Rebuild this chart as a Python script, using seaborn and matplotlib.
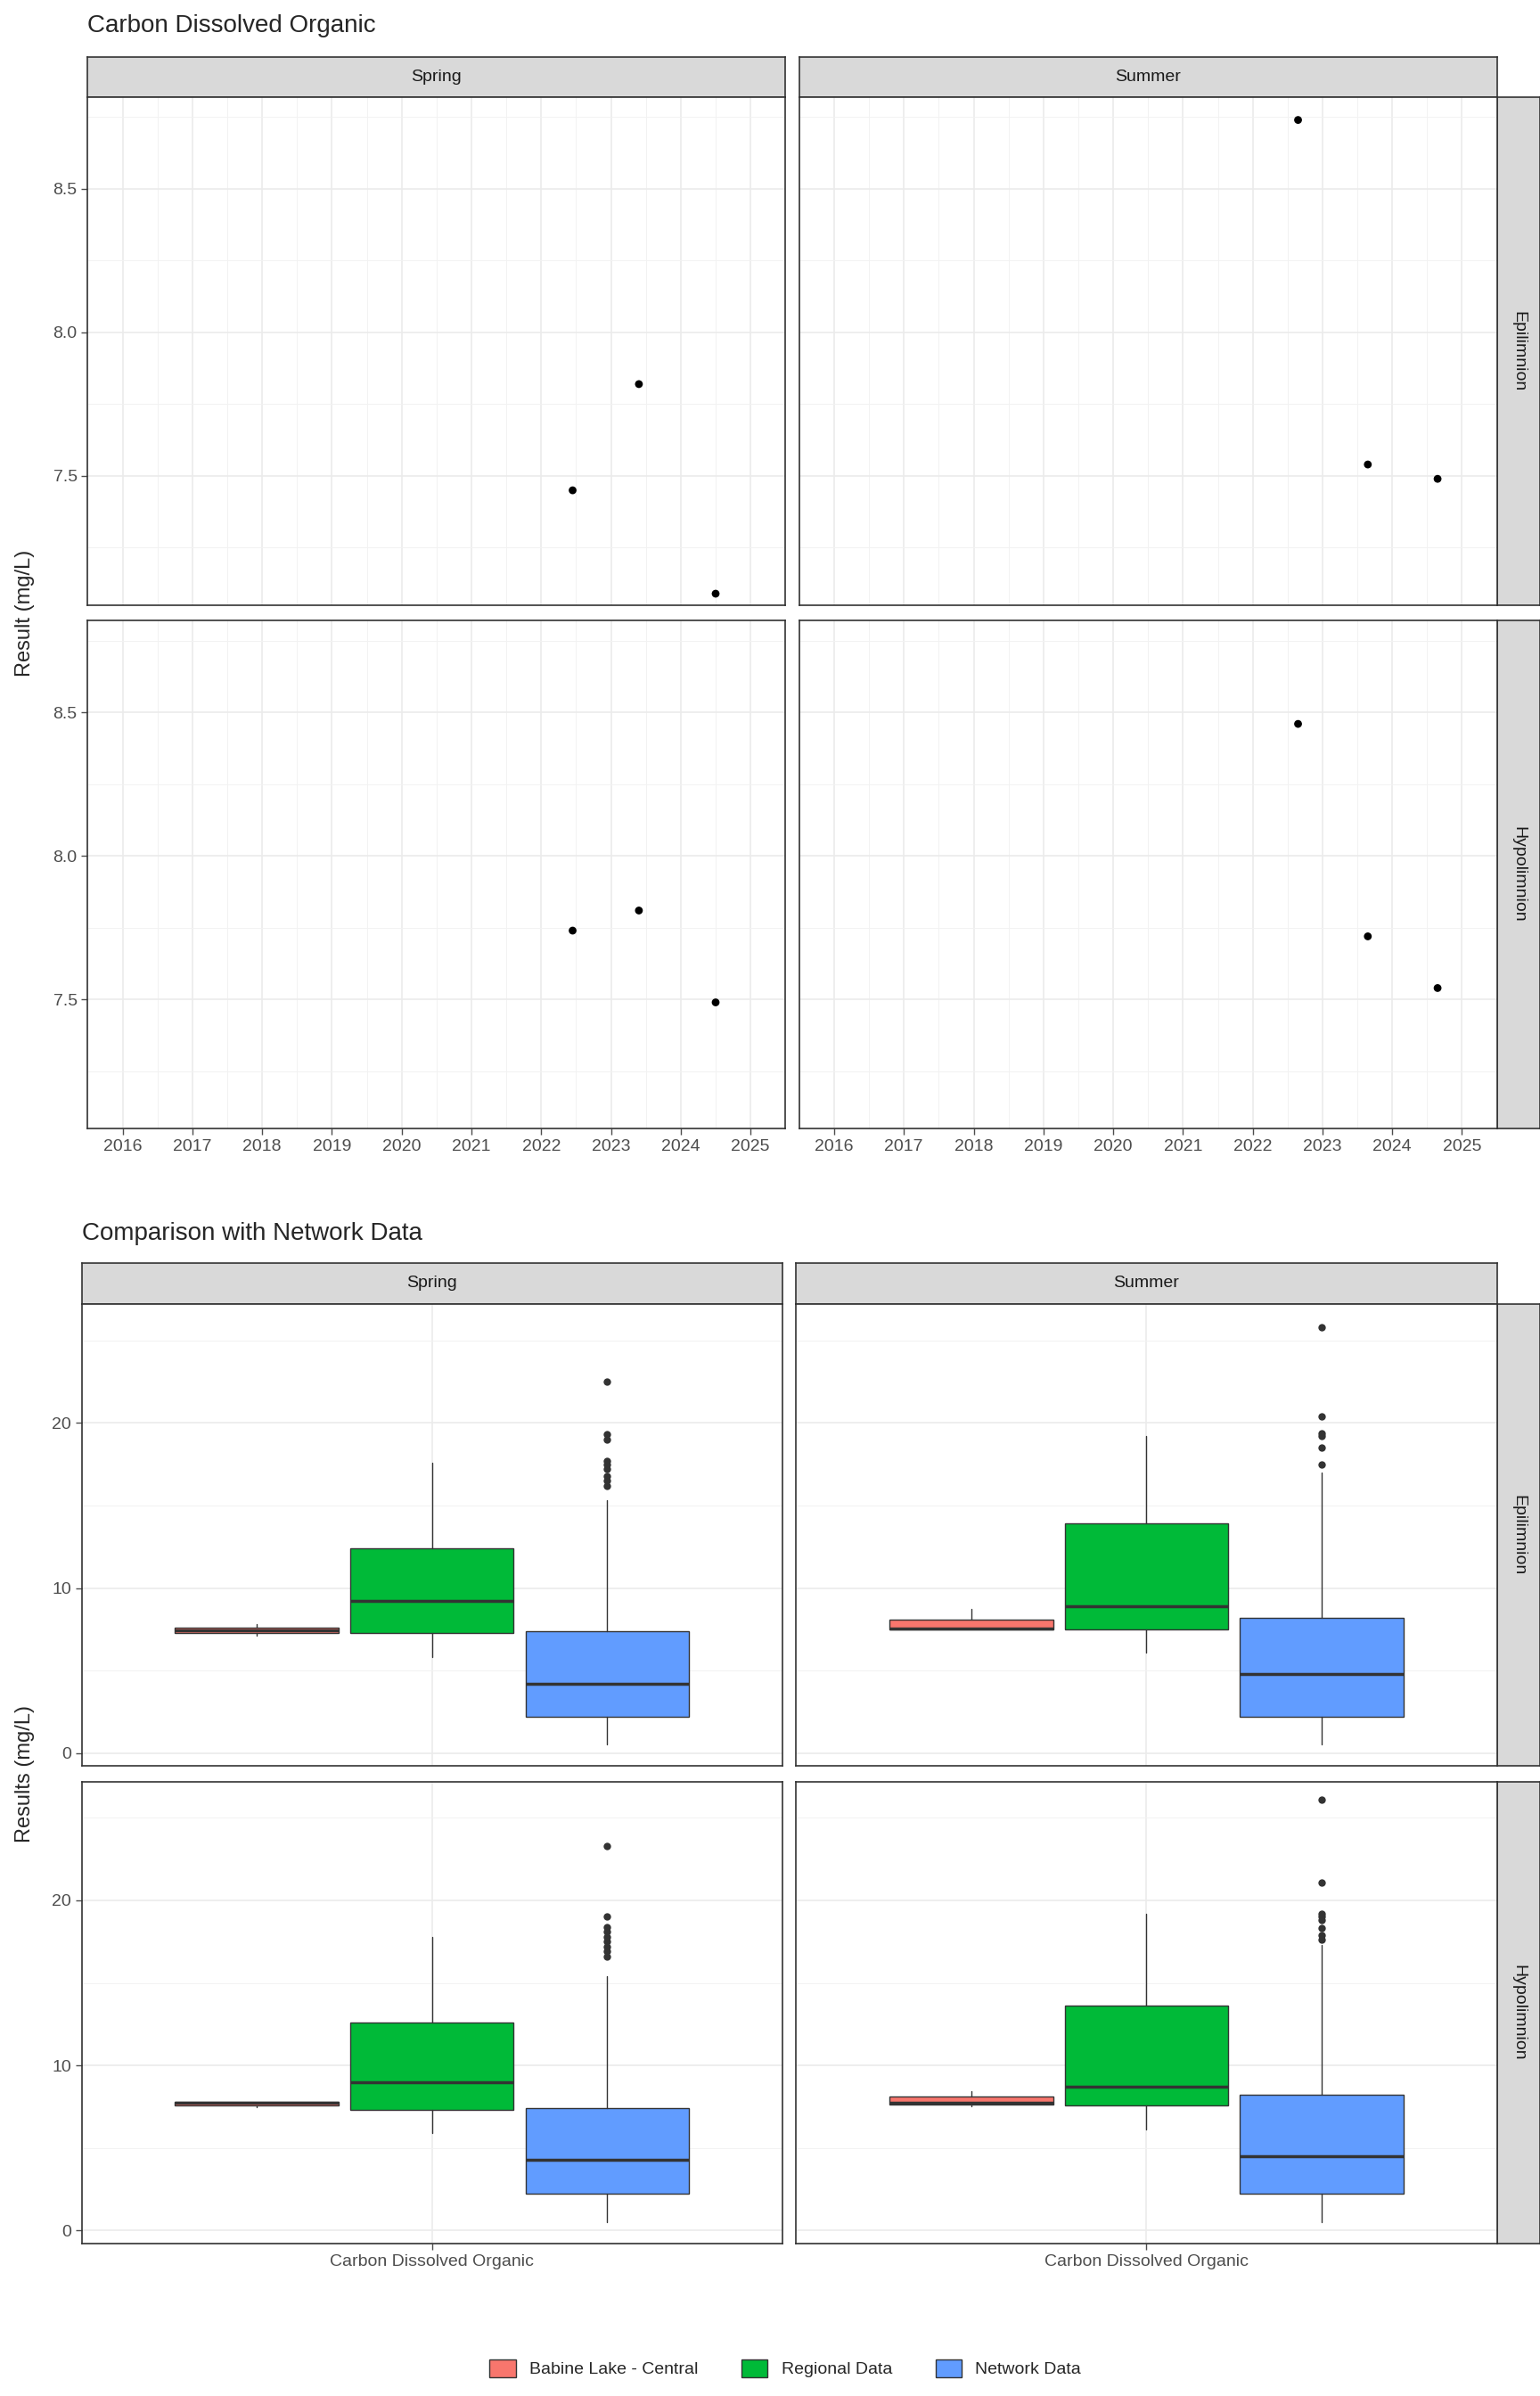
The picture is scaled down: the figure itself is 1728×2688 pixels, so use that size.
import matplotlib
matplotlib.use("Agg")
import matplotlib.pyplot as plt
import seaborn as sns
import pandas as pd
import numpy as np
from matplotlib.patches import Patch

sns.set_theme(style="white")
plt.rcParams["font.family"] = "Liberation Sans"

seasons = ["Spring", "Summer"]
layers = ["Epilimnion", "Hypolimnion"]

# Top chart data (fractional year, mg/L)
pt_season = ["Spring"]*3 + ["Summer"]*3 + ["Spring"]*3 + ["Summer"]*3
pt_layer = ["Epilimnion"]*6 + ["Hypolimnion"]*6
pt_year = [2022.45, 2023.4, 2024.5, 2022.65, 2023.65, 2024.65,
           2022.45, 2023.4, 2024.5, 2022.65, 2023.65, 2024.65]
pt_value = [7.45, 7.82, 7.09, 8.74, 7.54, 7.49,
            7.74, 7.81, 7.49, 8.46, 7.72, 7.54]
year_ticks = list(range(2016, 2026))

# Bottom chart box stats: (whislo, q1, med, q3, whishi)
groups = ["Babine Lake - Central", "Regional Data", "Network Data"]
colors = ["#F8766D", "#00BA38", "#619CFF"]
box_stats = {
    ("Spring", "Epilimnion"): [(7.1, 7.3, 7.45, 7.6, 7.8), (5.8, 7.3, 9.2, 12.4, 17.6), (0.5, 2.2, 4.2, 7.4, 15.3)],
    ("Summer", "Epilimnion"): [(7.49, 7.5, 7.54, 8.1, 8.74), (6.1, 7.5, 8.9, 13.9, 19.2), (0.5, 2.2, 4.8, 8.2, 17.0)],
    ("Spring", "Hypolimnion"): [(7.49, 7.6, 7.74, 7.78, 7.81), (5.9, 7.3, 9.0, 12.6, 17.8), (0.5, 2.2, 4.3, 7.4, 15.4)],
    ("Summer", "Hypolimnion"): [(7.54, 7.63, 7.72, 8.09, 8.46), (6.1, 7.6, 8.7, 13.6, 19.2), (0.5, 2.2, 4.5, 8.2, 17.3)],
}
net_fliers = {
    ("Spring", "Epilimnion"): [16.2, 16.5, 16.8, 17.2, 17.5, 17.7, 19.0, 19.3, 22.5],
    ("Summer", "Epilimnion"): [17.5, 18.5, 19.2, 19.4, 20.4, 25.8],
    ("Spring", "Hypolimnion"): [16.6, 16.9, 17.2, 17.5, 17.8, 18.1, 18.4, 19.0, 23.3],
    ("Summer", "Hypolimnion"): [17.6, 17.9, 18.3, 18.8, 19.0, 19.2, 21.1, 26.1],
}

W, H = 1000, 1556
fig = plt.figure(figsize=(17.28, 26.88), dpi=100)

def ax_at(x0, y0, x1, y1):
    return fig.add_axes([x0/W, 1 - y1/H, (x1-x0)/W, (y1-y0)/H])

def strip(x0, y0, x1, y1, text, rot=0):
    a = ax_at(x0, y0, x1, y1)
    a.set_facecolor("#D9D9D9")
    a.set_xticks([]); a.set_yticks([])
    for s in a.spines.values():
        s.set_color("#333333"); s.set_linewidth(1.2)
    a.text(0.5, 0.5, text, ha="center", va="center", rotation=rot, fontsize=14, color="#1A1A1A", transform=a.transAxes)

def style(a, ci, ri):
    a.set_facecolor("white")
    for s in a.spines.values():
        s.set_color("#333333"); s.set_linewidth(1.2)
    a.tick_params(labelsize=14, colors="#4D4D4D", length=5, width=1, direction="out",
                  left=(ci == 0), bottom=(ri == 1), labelleft=(ci == 0), labelbottom=(ri == 1))
    a.tick_params(which="minor", length=0)
    a.set_xlabel(""); a.set_ylabel("")

df = pd.DataFrame({"season": pt_season, "layer": pt_layer, "year": pt_year, "value": pt_value})

# ---------- top chart ----------
cols_top = [(57, 510), (519, 972)]
rows_top = [(63, 393), (403, 733)]
for ci, s in enumerate(seasons):
    strip(cols_top[ci][0], 37, cols_top[ci][1], 63, s)
for ri, l in enumerate(layers):
    strip(972, rows_top[ri][0], 1000, rows_top[ri][1], l, rot=-90)
    for ci, s in enumerate(seasons):
        a = ax_at(cols_top[ci][0], rows_top[ri][0], cols_top[ci][1], rows_top[ri][1])
        sub = df[(df.season == s) & (df.layer == l)]
        sns.scatterplot(data=sub, x="year", y="value", ax=a, color="black", s=40, edgecolor="none", zorder=3)
        a.set_xlim(2015.6, 2025.4)
        a.set_ylim(7.05, 8.82)
        a.set_xticks(year_ticks)
        a.set_xticks(np.arange(2015.5, 2025.6, 1), minor=True)
        a.set_yticks([7.5, 8.0, 8.5])
        a.set_yticks([7.25, 7.75, 8.25, 8.75], minor=True)
        a.grid(True, which="major", color="#EBEBEB", lw=1.2)
        a.grid(True, which="minor", color="#F2F2F2", lw=0.7)
        a.set_axisbelow(True)
        style(a, ci, ri)
fig.text(57/W, 1 - 17/H, "Carbon Dissolved Organic", fontsize=20, va="center", ha="left")
fig.text(16/W, 1 - 398/H, "Result (mg/L)", fontsize=17, rotation=90, va="center", ha="center")

# ---------- bottom chart ----------
cols_b = [(53, 508), (517, 972)]
rows_b = [(847, 1147), (1157, 1457)]
for ci, s in enumerate(seasons):
    strip(cols_b[ci][0], 820, cols_b[ci][1], 847, s)
offsets = [-0.3, 0.0, 0.3]
for ri, l in enumerate(layers):
    strip(972, rows_b[ri][0], 1000, rows_b[ri][1], l, rot=-90)
    for ci, s in enumerate(seasons):
        a = ax_at(cols_b[ci][0], rows_b[ri][0], cols_b[ci][1], rows_b[ri][1])
        stats = []
        for gi, st in enumerate(box_stats[(s, l)]):
            stats.append(dict(whislo=st[0], q1=st[1], med=st[2], q3=st[3], whishi=st[4],
                              fliers=net_fliers[(s, l)] if gi == 2 else []))
        bp = a.bxp(stats, positions=[1 + o for o in offsets], widths=0.28, patch_artist=True,
                   showcaps=False,
                   medianprops=dict(color="#333333", lw=2.5),
                   whiskerprops=dict(color="#333333", lw=1),
                   boxprops=dict(edgecolor="#333333", lw=1),
                   flierprops=dict(marker="o", markerfacecolor="#333333", markeredgecolor="none", markersize=6))
        for p, c in zip(bp["boxes"], colors):
            p.set_facecolor(c)
        a.set_xlim(0.4, 1.6)
        a.set_ylim(-0.8, 27.2)
        a.set_xticks([1])
        a.set_xticklabels(["Carbon Dissolved Organic"])
        a.set_yticks([0, 10, 20])
        a.set_yticks([5, 15, 25], minor=True)
        a.grid(True, which="major", color="#EBEBEB", lw=1.2)
        a.grid(True, which="minor", axis="y", color="#F2F2F2", lw=0.7)
        a.set_axisbelow(True)
        style(a, ci, ri)
fig.text(53/W, 1 - 801/H, "Comparison with Network Data", fontsize=20, va="center", ha="left")
fig.text(16/W, 1 - 1152/H, "Results (mg/L)", fontsize=17, rotation=90, va="center", ha="center")

handles = [Patch(facecolor=c, edgecolor="#333333", label=g) for g, c in zip(groups, colors)]
fig.legend(handles=handles, loc="center", bbox_to_anchor=(0.51, 1 - 1538/H), ncol=3,
           frameon=False, fontsize=14, handlelength=1.5, handleheight=1.2, columnspacing=2.5)

fig.savefig("out.png", dpi=100, facecolor="white")
